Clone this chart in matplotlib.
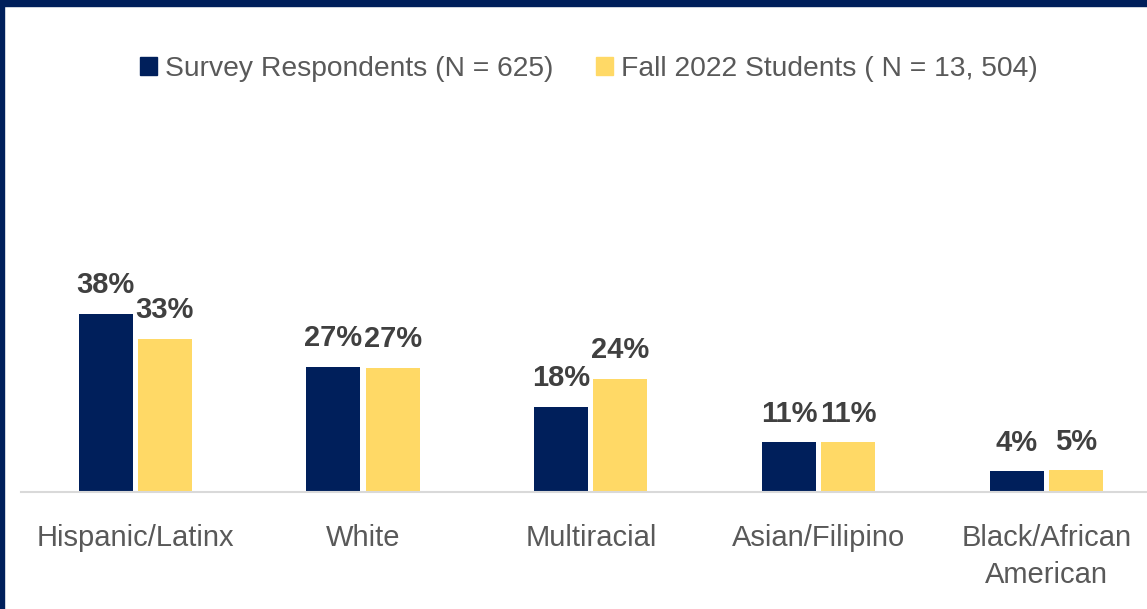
import matplotlib
matplotlib.use("Agg")
import matplotlib.pyplot as plt
from matplotlib.patches import Patch, Rectangle
import numpy as np

categories = ["Hispanic/Latinx", "White", "Multiracial", "Asian/Filipino", "Black/African\nAmerican"]
survey = [38.0, 26.7, 18.2, 10.6, 4.4]
fall2022 = [32.7, 26.6, 24.1, 10.6, 4.6]
series_names = ["Survey Respondents (N = 625)", "Fall 2022 Students ( N = 13, 504)"]

navy = "#001F5B"
gold = "#FFD966"

plt.rcParams['font.family'] = ['Liberation Sans', 'DejaVu Sans']

W, H = 1147, 609
fig = plt.figure(figsize=(W / 100, H / 100), dpi=100)

# plot area runs past the right edge, the original was cropped
x0, x1 = 21.35, 21.35 + 5 * 227.8
base_y = 492
pct_px = 4.68
ymax = 45
ax = fig.add_axes([x0 / W, (H - base_y) / H, (x1 - x0) / W, ymax * pct_px / H])

x = np.arange(len(categories))
bw = 0.237
off = 0.13
b1 = ax.bar(x - off, survey, bw, color=navy)
b2 = ax.bar(x + off, fall2022, bw, color=gold)

for bars, vals in [(b1, survey), (b2, fall2022)]:
    for rect, v in zip(bars, vals):
        ax.annotate("%d%%" % round(v), (rect.get_x() + rect.get_width() / 2, v),
                    xytext=(0, 15), textcoords="offset points", ha="center", va="baseline",
                    fontsize=21, fontweight="bold", color="#404040")

ax.set_xlim(-0.5, len(categories) - 0.5)
ax.set_ylim(0, ymax)
ax.set_xticks(x)
ax.set_xticklabels(categories, fontsize=21, color="#595959", linespacing=1.4)
ax.tick_params(axis="x", length=0, pad=23)
ax.set_yticks([])
for s in ["top", "right", "left"]:
    ax.spines[s].set_visible(False)
ax.spines["bottom"].set_color("#D9D9D9")
ax.spines["bottom"].set_linewidth(1.5)

handles = [Patch(color=navy), Patch(color=gold)]
leg = fig.legend(handles, series_names, loc="center", bbox_to_anchor=(589 / W, 1 - 69 / H),
                 ncol=2, frameon=False, fontsize=20.3, handlelength=0.6, handleheight=0.6,
                 handletextpad=0.3, columnspacing=1.5)
for t in leg.get_texts():
    t.set_color("#595959")

# navy frame on top and left edge
fig.add_artist(Rectangle((0, 1 - 6 / H), 1, 6 / H, transform=fig.transFigure, color=navy, zorder=10))
fig.add_artist(Rectangle((0, 0), 4 / W, 1, transform=fig.transFigure, color=navy, zorder=10))

fig.savefig("out.png", dpi=100)
plt.close(fig)
